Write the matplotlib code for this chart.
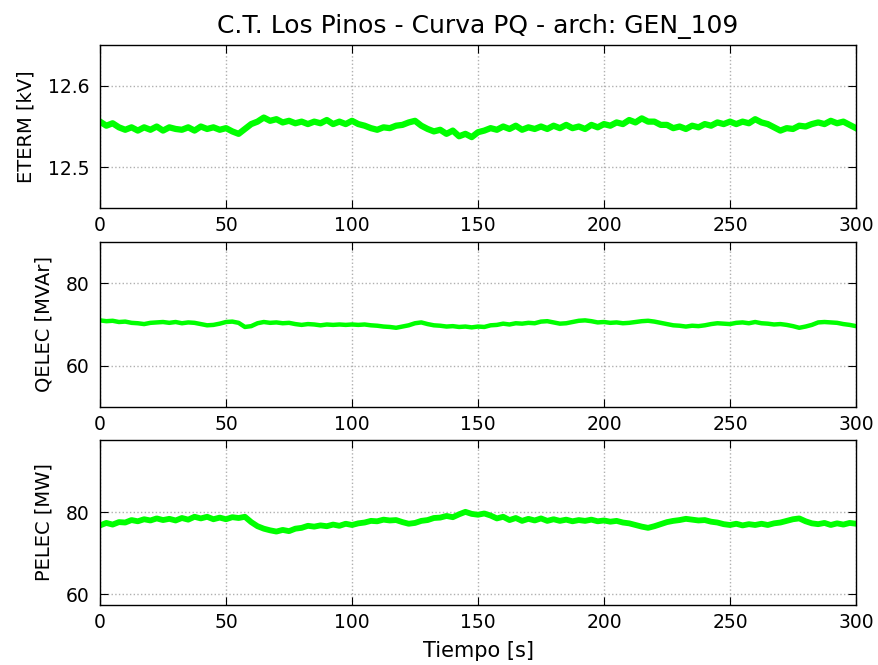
import matplotlib
matplotlib.use("Agg")
import matplotlib.pyplot as plt
import numpy as np

plt.rcParams.update({
    "font.family": "DejaVu Sans",
    "xtick.direction": "in", "ytick.direction": "in",
    "xtick.top": True, "ytick.right": True,
    "xtick.major.size": 6, "ytick.major.size": 6,
    "xtick.major.pad": 6, "ytick.major.pad": 7.5,
    "xtick.labelsize": 13.5, "ytick.labelsize": 13.5,
})

# Samples every 2.5 s from 0 to 300 s
ETERM = [
    12.556, 12.551, 12.554, 12.549, 12.546, 12.549, 12.545, 12.549, 12.546, 12.550,
    12.545, 12.549, 12.547, 12.546, 12.549, 12.545, 12.550, 12.547, 12.549, 12.546,
    12.548, 12.544, 12.541, 12.547, 12.553, 12.556, 12.561, 12.557, 12.559, 12.555,
    12.557, 12.554, 12.556, 12.553, 12.556, 12.554, 12.558, 12.553, 12.556, 12.553,
    12.557, 12.553, 12.551, 12.548, 12.546, 12.549, 12.548, 12.551, 12.552, 12.555,
    12.557, 12.551, 12.547, 12.544, 12.546, 12.541, 12.545, 12.538, 12.541, 12.537,
    12.543, 12.545, 12.548, 12.546, 12.550, 12.547, 12.551, 12.546, 12.549, 12.547,
    12.550, 12.547, 12.551, 12.548, 12.552, 12.548, 12.550, 12.547, 12.552, 12.549,
    12.553, 12.551, 12.555, 12.553, 12.558, 12.555, 12.560, 12.556, 12.556, 12.552,
    12.552, 12.548, 12.550, 12.547, 12.551, 12.549, 12.553, 12.551, 12.555, 12.553,
    12.556, 12.553, 12.556, 12.554, 12.559, 12.555, 12.553, 12.549, 12.545, 12.548,
    12.547, 12.551, 12.550, 12.553, 12.555, 12.553, 12.557, 12.554, 12.556, 12.552,
    12.548,
]
QELEC = [
    71.0, 70.8, 70.9, 70.6, 70.7, 70.4, 70.3, 70.1, 70.4, 70.5,
    70.6, 70.4, 70.6, 70.3, 70.5, 70.4, 70.1, 69.8, 69.9, 70.2,
    70.6, 70.7, 70.4, 69.4, 69.6, 70.3, 70.6, 70.4, 70.5, 70.3,
    70.4, 70.1, 69.9, 70.1, 70.0, 69.8, 70.0, 69.9, 70.0, 69.9,
    70.0, 69.9, 70.0, 69.8, 69.7, 69.5, 69.4, 69.2, 69.5, 69.8,
    70.3, 70.5, 70.1, 69.8, 69.7, 69.5, 69.6, 69.4, 69.5, 69.3,
    69.5, 69.4, 69.8, 69.9, 70.2, 70.0, 70.3, 70.2, 70.4, 70.3,
    70.7, 70.8, 70.5, 70.2, 70.3, 70.6, 70.9, 71.0, 70.8, 70.5,
    70.6, 70.4, 70.5, 70.3, 70.4, 70.6, 70.8, 70.9, 70.7, 70.4,
    70.1, 69.8, 69.7, 69.5, 69.7, 69.6, 69.8, 70.1, 70.3, 70.2,
    70.1, 70.4, 70.5, 70.3, 70.6, 70.3, 70.2, 70.0, 70.1, 69.9,
    69.6, 69.2, 69.5, 69.9, 70.5, 70.6, 70.5, 70.4, 70.1, 69.9,
    69.6,
]
PELEC = [
    76.8, 77.4, 77.0, 77.6, 77.5, 78.1, 77.8, 78.3, 78.0, 78.5,
    78.1, 78.4, 78.0, 78.6, 78.2, 78.9, 78.5, 78.9, 78.3, 78.7,
    78.3, 78.8, 78.6, 78.9, 77.6, 76.6, 76.0, 75.6, 75.3, 75.7,
    75.4, 76.0, 76.2, 76.7, 76.5, 76.8, 76.6, 77.0, 76.7, 77.2,
    76.9, 77.3, 77.5, 77.9, 77.8, 78.2, 78.0, 78.1, 77.6, 77.2,
    77.4, 77.9, 78.1, 78.6, 78.7, 79.1, 78.8, 79.5, 80.1, 79.6,
    79.4, 79.7, 79.2, 78.5, 78.9, 78.1, 78.6, 77.9, 78.4, 78.0,
    78.5, 77.9, 78.3, 77.9, 78.2, 77.8, 78.1, 77.9, 78.2, 77.8,
    78.0, 77.7, 77.9, 77.5, 77.3, 76.9, 76.5, 76.2, 76.6, 77.1,
    77.6, 77.9, 78.1, 78.4, 78.2, 78.0, 78.1, 77.7, 77.5, 77.1,
    76.9, 77.2, 76.8, 77.1, 76.9, 77.2, 76.9, 77.3, 77.5, 77.9,
    78.3, 78.5, 77.8, 77.3, 77.1, 77.4, 76.9, 77.3, 77.0, 77.4,
    77.2,
]

PANELS = [
    (ETERM, "ETERM [kV]", (12.45, 12.65), [12.5, 12.6], 4.5),
    (QELEC, "QELEC [MVAr]", (50, 90), [60, 80], 3.2),
    (PELEC, "PELEC [MW]", (57.4, 97.6), [60, 80], 4.2),
]

fig = plt.figure(figsize=(8.79, 6.65), dpi=100)
boxes = [
    [0.1138, 0.6872, 0.8600, 0.2451],
    [0.1138, 0.3880, 0.8600, 0.2481],
    [0.1138, 0.0902, 0.8600, 0.2481],
]

for box, (vals, label, ylim, yticks, lw) in zip(boxes, PANELS):
    ax = fig.add_axes(box)
    t = np.linspace(0, 300, len(vals))
    ax.plot(t, vals, color="#00ff00", lw=lw)
    ax.set_xlim(0, 300)
    ax.set_ylim(*ylim)
    ax.set_yticks(yticks)
    ax.set_xticks([0, 50, 100, 150, 200, 250, 300])
    ax.grid(True, ls=":", color="#b0b0b0", lw=1)
    ax.set_ylabel(label, fontsize=14, labelpad=9)
    for s in ax.spines.values():
        s.set_linewidth(1.0)
    if label.startswith("ETERM"):
        ax.set_title("C.T. Los Pinos - Curva PQ - arch: GEN_109", fontsize=18, pad=9)
    if label.startswith("PELEC"):
        ax.set_xlabel("Tiempo [s]", fontsize=15, labelpad=6)

fig.savefig("out.png", dpi=100)
